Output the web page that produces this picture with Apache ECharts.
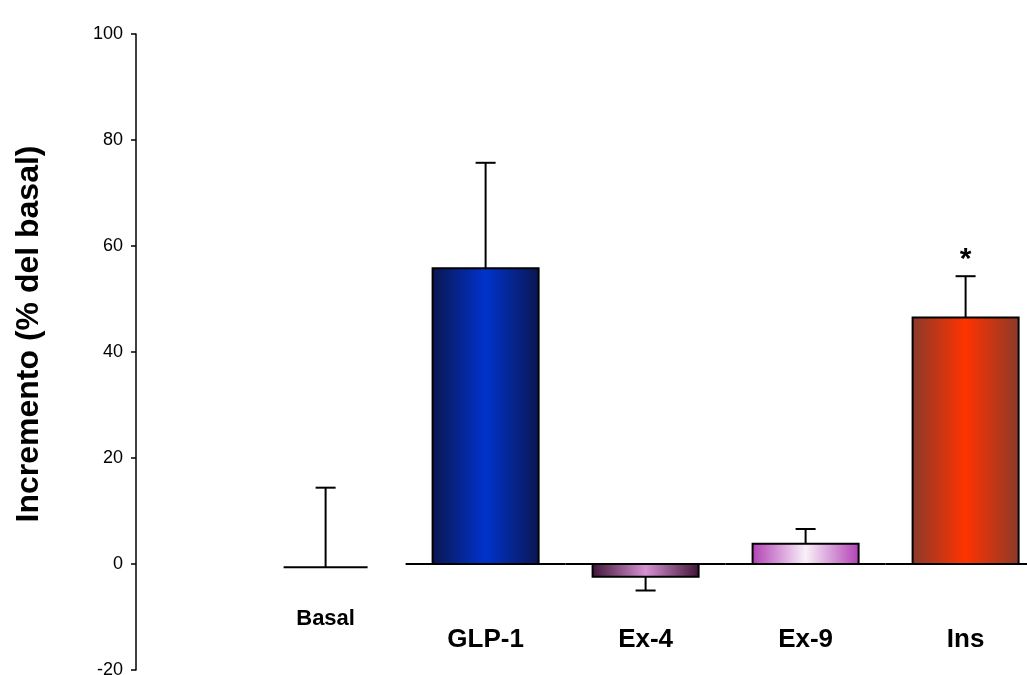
<!DOCTYPE html>
<html>
<head>
<meta charset="utf-8">
<script src="https://cdn.jsdelivr.net/npm/echarts@6/dist/echarts.min.js"></script>
<style>
html,body{margin:0;padding:0;background:#fff;}
#chart{width:1027px;height:675px;}
</style>
</head>
<body>
<div id="chart"></div>
<script>
// ---- data ----
const categories = ['Basal', 'GLP-1', 'Ex-4', 'Ex-9', 'Ins'];
const means = [-0.6, 55.8, -2.4, 3.8, 46.5];
const errorEnds = [14.4, 75.7, -5.0, 6.6, 54.3];
const significance = ['', '', '', '', '*'];
const yMin = -20, yMax = 100, yInterval = 20;
const yAxisTitle = 'Incremento (% del basal)';

// ---- styles ----
const FONT = "'Liberation Sans', Arial, sans-serif";
const barGradients = {
  'Basal': ['#000000', '#000000'],
  'GLP-1': ['#0a1650', '#0033cc'],
  'Ex-4': ['#3e1436', '#d692d2'],
  'Ex-9': ['#b040b4', '#f9f0f9'],
  'Ins': ['#8a3a2a', '#ff3300']
};

const GRID_TOP = 34, GRID_BOTTOM = 5, CANVAS_H = 675;
const gridH = CANVAS_H - GRID_TOP - GRID_BOTTOM;
// distance of the zero line above the grid bottom, used to lift the category labels
const zeroLift = gridH * (0 - yMin) / (yMax - yMin);

const chart = echarts.init(document.getElementById('chart'), null, {renderer: 'canvas'});

const barData = categories.map((c, i) => [i, means[i]]);
const errData = categories.map((c, i) => [i, means[i], errorEnds[i]]);
const baseData = categories.map((c, i) => [i, 0]).filter((d, i) => categories[i] !== 'Basal');

const option = {
  animation: false,
  backgroundColor: '#fff',
  grid: {left: 245.6, right: -18.6, top: GRID_TOP, bottom: GRID_BOTTOM, containLabel: false, outerBoundsMode: 'none'},
  xAxis: {
    type: 'category',
    data: categories,
    boundaryGap: true,
    position: 'bottom',
    offset: -zeroLift,
    axisLine: {show: false, onZero: false},
    axisTick: {show: false},
    axisLabel: {
      margin: 44,
      interval: 0,
      formatter: v => v === 'Basal' ? '{b|' + v + '}' : '{a|' + v + '}',
      rich: {
        a: {fontSize: 26, fontWeight: 'bold', fontFamily: FONT, color: '#000', lineHeight: 45, verticalAlign: 'bottom'},
        b: {fontSize: 22, fontWeight: 'bold', fontFamily: FONT, color: '#000', lineHeight: 22}
      }
    },
    splitLine: {show: false}
  },
  yAxis: {
    type: 'value',
    min: yMin, max: yMax, interval: yInterval,
    offset: 109.6,
    axisLine: {show: true, lineStyle: {color: '#000', width: 1.5}},
    axisTick: {show: true, length: 5, lineStyle: {color: '#000', width: 1.5}},
    axisLabel: {fontSize: 18, fontFamily: FONT, color: '#000', margin: 13},
    splitLine: {show: false},
    name: yAxisTitle,
    nameLocation: 'middle',
    nameGap: 91,
    nameTextStyle: {fontSize: 32, fontWeight: 'bold', fontFamily: FONT, color: '#000', padding: [0, 0, 0, 36]}
  },
  series: [
    {
      type: 'custom',
      name: 'baseline',
      z: 1,
      data: baseData,
      renderItem: (params, api) => {
        const p = api.coord([api.value(0), 0]);
        const bw = api.size([1, 0])[0];
        return {type: 'line', shape: {x1: p[0] - bw / 2, y1: p[1], x2: p[0] + bw / 2, y2: p[1]},
          style: {stroke: '#000', lineWidth: 2}};
      }
    },
    {
      type: 'custom',
      name: 'bars',
      z: 2,
      data: barData,
      renderItem: (params, api) => {
        const idx = api.value(0);
        const v = api.value(1);
        const p0 = api.coord([idx, 0]);
        const p1 = api.coord([idx, v]);
        const bw = api.size([1, 0])[0];
        const w = bw * 0.6625;
        const h = Math.abs(p1[1] - p0[1]);
        const cat = categories[idx];
        if (h < 5) {
          const lw = bw * 0.525;
          return {type: 'line', shape: {x1: p1[0] - lw / 2, y1: p1[1], x2: p1[0] + lw / 2, y2: p1[1]},
            style: {stroke: '#000', lineWidth: 2}};
        }
        const g = barGradients[cat];
        return {
          type: 'rect',
          shape: {x: p0[0] - w / 2, y: Math.min(p0[1], p1[1]), width: w, height: h},
          style: {
            fill: new echarts.graphic.LinearGradient(0, 0, 1, 0, [
              {offset: 0, color: g[0]}, {offset: 0.5, color: g[1]}, {offset: 1, color: g[0]}
            ]),
            stroke: '#000', lineWidth: 2
          }
        };
      }
    },
    {
      type: 'custom',
      name: 'errors',
      z: 3,
      data: errData,
      renderItem: (params, api) => {
        const idx = api.value(0);
        const pm = api.coord([idx, api.value(1)]);
        const pe = api.coord([idx, api.value(2)]);
        const cap = 10;
        const children = [
          {type: 'line', shape: {x1: pm[0], y1: pm[1], x2: pe[0], y2: pe[1]}, style: {stroke: '#000', lineWidth: 2}},
          {type: 'line', shape: {x1: pe[0] - cap, y1: pe[1], x2: pe[0] + cap, y2: pe[1]}, style: {stroke: '#000', lineWidth: 2}}
        ];
        const s = significance[idx];
        if (s) {
          children.push({type: 'text', x: pe[0], y: pe[1] - 1,
            style: {text: s, fontSize: 30, fontWeight: 'bold', fontFamily: FONT, fill: '#000',
              align: 'center', verticalAlign: 'bottom'}});
        }
        return {type: 'group', children};
      }
    }
  ]
};
chart.setOption(option);
</script>
</body>
</html>
